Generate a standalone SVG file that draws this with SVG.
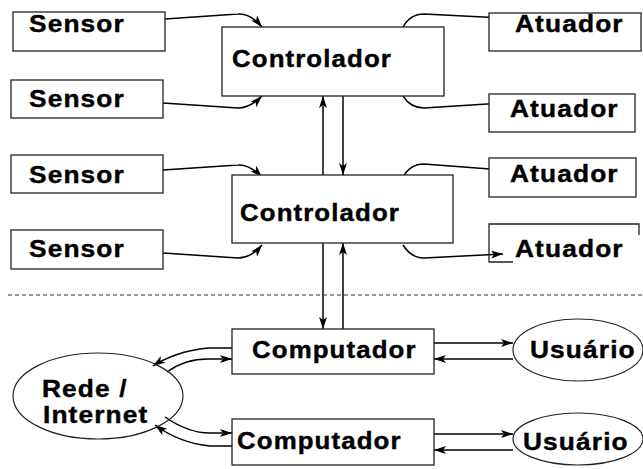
<svg xmlns="http://www.w3.org/2000/svg" width="643" height="469" viewBox="0 0 643 469">
<style>
.box{fill:#fff;stroke:#222;stroke-width:1.3}
.lbl{font-family:"Liberation Sans",Arial,sans-serif;font-weight:bold;font-size:23.5px;letter-spacing:1px;fill:#000;stroke:#000;stroke-width:0.4}
.c{fill:none;stroke:#000;stroke-width:1.5}
.a{marker-end:url(#ah)}
</style>
<defs>
<marker id="ah" viewBox="0 0 12 8" markerWidth="13" markerHeight="8" refX="12" refY="4" orient="auto" markerUnits="userSpaceOnUse">
<path d="M0,0 L12,4 L0,8 L3,4 Z" fill="#000"/>
</marker>
</defs>
<rect width="643" height="469" fill="#fff"/>
<g id="connectors">
<path class="c a" d="M165,19 L238,14 C248,13 256,20 262,27"/>
<path class="c a" d="M163,103 L238,108 C248,108 256,102 262,96"/>
<path class="c a" d="M163,170 L238,165 C248,164 256,171 262,177"/>
<path class="c a" d="M163,253 L238,258 C248,258 256,252 262,245"/>
<path class="c a" d="M403,27 C408,18 414,14 424,14 L503,18"/>
<path class="c a" d="M403,96 C408,104 414,108 424,108 L503,103"/>
<path class="c a" d="M403,177 C408,168 414,164 424,164 L503,170"/>
<path class="c a" d="M403,245 C408,253 414,258 424,258 L503,254"/>
<path class="c a" d="M323,175 L323,96"/>
<path class="c a" d="M343,96 L343,175"/>
<path class="c a" d="M323,243 L323,329"/>
<path class="c a" d="M343,329 L343,243"/>
<path class="c a" d="M232,348 L208,348 C185,350 165,358 153,366"/>
<path class="c a" d="M167,372 C178,364 192,359 208,359 L232,359"/>
<path class="c a" d="M165,417 C178,426 192,433 210,433 L232,433"/>
<path class="c a" d="M232,446 L210,446 C190,444 170,436 155,425"/>
<path class="c a" d="M434,343 L513,343"/>
<path class="c a" d="M513,359 L434,359"/>
<path class="c a" d="M434,434 L513,434"/>
<path class="c a" d="M513,450 L434,450"/>
<line x1="8" y1="295" x2="643" y2="295" stroke="#333" stroke-width="1.2" stroke-dasharray="4 3"/>
</g>
<g id="sensor1"><rect class="box" x="13" y="12" width="152" height="39"/><text class="lbl" transform="translate(29,32) scale(1.12,1)">Sensor</text></g>
<g id="sensor2"><rect class="box" x="11" y="80" width="152" height="38"/><text class="lbl" transform="translate(29,107) scale(1.12,1)">Sensor</text></g>
<g id="sensor3"><rect class="box" x="11" y="155" width="152" height="38"/><text class="lbl" transform="translate(29,183) scale(1.12,1)">Sensor</text></g>
<g id="sensor4"><rect class="box" x="11" y="230" width="152" height="39"/><text class="lbl" transform="translate(29,257) scale(1.12,1)">Sensor</text></g>
<g id="controlador1"><rect class="box" x="222" y="27" width="222" height="69"/><text class="lbl" transform="translate(232,67) scale(1.1,1)">Controlador</text></g>
<g id="controlador2"><rect class="box" x="232" y="175" width="221" height="68"/><text class="lbl" transform="translate(240,221) scale(1.1,1)">Controlador</text></g>
<g id="atuador1"><rect class="box" x="489" y="13" width="152" height="38"/><text class="lbl" transform="translate(515,32) scale(1.12,1)">Atuador</text></g>
<g id="atuador2"><rect class="box" x="489" y="94" width="146" height="38"/><text class="lbl" transform="translate(510,117) scale(1.12,1)">Atuador</text></g>
<g id="atuador3"><rect class="box" x="489" y="158" width="147" height="39"/><text class="lbl" transform="translate(510,182) scale(1.12,1)">Atuador</text></g>
<g id="atuador4"><path d="M513,262 L489,262 L489,224 L639,224 L639,235" fill="none" stroke="#222" stroke-width="1.3"/><text class="lbl" transform="translate(515,257) scale(1.12,1)">Atuador</text></g>
<g id="computador1"><rect class="box" x="232" y="329" width="202" height="45"/><text class="lbl" transform="translate(252,358) scale(1.1,1)">Computador</text></g>
<g id="computador2"><rect class="box" x="232" y="419" width="202" height="46"/><text class="lbl" transform="translate(237,449) scale(1.1,1)">Computador</text></g>
<g id="usuario1"><ellipse cx="578" cy="350" rx="65" ry="31" fill="none" stroke="#222" stroke-width="1.2"/><text class="lbl" transform="translate(530,358) scale(1.12,1)">Usuário</text></g>
<g id="usuario2"><ellipse cx="578" cy="439" rx="65" ry="26" fill="none" stroke="#222" stroke-width="1.2"/><text class="lbl" transform="translate(523,450) scale(1.12,1)">Usuário</text></g>
<g id="rede"><ellipse cx="98" cy="396" rx="85" ry="43" fill="none" stroke="#222" stroke-width="1.2"/><text class="lbl" transform="translate(42,397) scale(1.12,1)">Rede /</text><text class="lbl" transform="translate(43,423) scale(1.12,1)">Internet</text></g>
</svg>
